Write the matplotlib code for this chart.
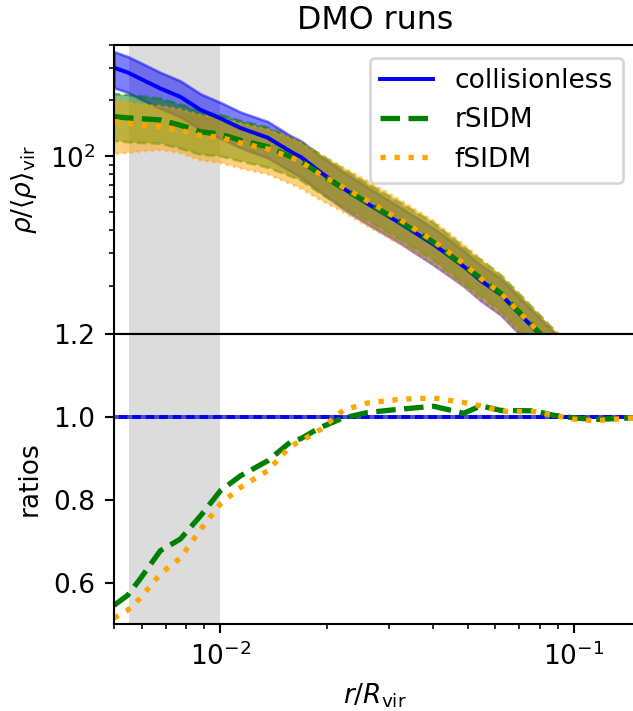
import numpy as np
import matplotlib.pyplot as plt

# radii (r / R_vir)
r = [0.0050, 0.00546, 0.00593, 0.00676, 0.00770, 0.00878, 0.0100, 0.0114,
     0.0136, 0.0158, 0.0169, 0.0192, 0.0223, 0.0261, 0.0323, 0.0401,
     0.0488, 0.0545, 0.0621, 0.0771, 0.0878, 0.100, 0.114, 0.147]

# density profiles rho / <rho>_vir
rho_cdm = [300, 283, 262, 232, 209, 178, 160, 142, 126, 106, 99, 82,
           67, 55.5, 43.5, 33.5, 25.5, 21.4, 18, 11.8, 9.3, 7.3, 5.8, 3.6]
rho_cdm_hi = [366, 345, 320, 283, 255, 217, 195, 173, 154, 129, 121, 100,
              82, 68, 53, 41, 31, 26, 22, 14.4, 11.3, 8.9, 7.1, 4.4]
rho_cdm_lo = [234, 221, 204, 181, 163, 139, 125, 111, 98, 83, 77, 64,
              52, 43, 34, 26, 20, 16.7, 14, 9.2, 7.3, 5.7, 4.5, 2.8]

rho_r = [163.5, 161, 159.6, 157, 147, 135.5, 131.5, 122, 112.6, 99.6, 93.9, 80,
         66.9, 56.1, 44.3, 34.4, 25.7, 22, 18.3, 12, 9.3, 7.3, 5.8, 3.6]
rho_r_hi = [217, 214, 211, 204, 190, 173, 167, 155, 143, 126, 119, 102,
            85, 71, 56, 43.7, 32.4, 27.7, 22.9, 15, 11.6, 9.1, 7.2, 4.5]
rho_r_lo = [121, 119, 118, 117, 110, 102, 100, 94, 87, 78, 74, 63,
            53, 45, 35.5, 27.5, 20.6, 17.6, 14.6, 9.6, 7.4, 5.8, 4.6, 2.9]

rho_f = [154, 151, 147, 144, 138, 129.6, 126.4, 117.9, 109.6, 98.6, 93.3, 79.5,
         68.1, 57.4, 45.4, 35, 26.4, 22, 18.3, 12, 9.3, 7.3, 5.7, 3.6]
rho_f_hi = [200, 196, 191, 187, 179, 167, 162, 151, 140, 126, 119, 102,
            87, 73.5, 58, 44.8, 33.5, 28, 23, 15, 11.6, 9.1, 7.1, 4.5]
rho_f_lo = [103, 104, 106, 108, 104, 95, 92, 86, 80, 71, 67, 58,
            50, 42, 33.5, 26, 19.8, 16.7, 14, 9.2, 7.2, 5.7, 4.4, 2.8]

# ratios to collisionless
ratio_cdm = [1.0] * len(r)
ratio_r = [0.545, 0.569, 0.609, 0.677, 0.705, 0.761, 0.822, 0.858, 0.894, 0.940,
           0.948, 0.975, 0.998, 1.011, 1.019, 1.026, 1.009, 1.027, 1.016, 1.015,
           1.004, 0.998, 0.994, 0.998]
ratio_f = [0.514, 0.533, 0.562, 0.621, 0.659, 0.728, 0.790, 0.830, 0.870, 0.930,
           0.942, 0.970, 1.017, 1.034, 1.043, 1.046, 1.035, 1.027, 1.014, 1.013,
           1.004, 0.995, 0.991, 0.998]

dpi = 190
fig, (ax1, ax2) = plt.subplots(2, 1, sharex=True, figsize=(633 / dpi, 711 / dpi), dpi=dpi)
plt.subplots_adjust(left=0.1801, right=1.005, top=0.9374, bottom=0.1224, hspace=0)

for ax in (ax1, ax2):
    ax.axvspan(0.0055, 0.01, color='gainsboro', zorder=0, lw=0)

# top panel
ax1.fill_between(r, rho_cdm_lo, rho_cdm_hi, color='blue', alpha=0.5, lw=1)
ax1.fill_between(r, rho_r_lo, rho_r_hi, color='green', alpha=0.5, lw=1, ls='--')
ax1.fill_between(r, rho_f_lo, rho_f_hi, color='orange', alpha=0.5, lw=1, ls=':')
ax1.plot(r, rho_cdm, color='blue', ls='-', label='collisionless')
ax1.plot(r, rho_r, color='green', ls='--', lw=2, label='rSIDM')
ax1.plot(r, rho_f, color='orange', ls=':', lw=2, label='fSIDM')
ax1.set_xscale('log')
ax1.set_yscale('log')
ax1.set_ylim(11, 400)
ax1.set_ylabel(r'$\rho/\langle\rho\rangle_{\rm vir}$')
ax1.tick_params(axis='x', which='both', bottom=False, labelbottom=False)
ax1.legend(loc='upper right')
ax1.set_title('DMO runs')

# bottom panel
ax2.plot(r, ratio_cdm, color='blue', ls='-')
ax2.plot(r, ratio_cdm, color='#5050c0', ls=(0, (1.2, 2.2)), lw=1.5)
ax2.plot(r, ratio_r, color='green', ls='--', lw=2)
ax2.plot(r, ratio_f, color='orange', ls=':', lw=2)
ax2.set_xlim(0.005, 0.15)
ax2.set_ylim(0.5, 1.2)
ax2.set_yticks([0.6, 0.8, 1.0, 1.2])
ax2.set_ylabel('ratios')
ax2.set_xlabel(r'$r/R_{\rm vir}$')

plt.savefig('out.png', dpi=dpi)
